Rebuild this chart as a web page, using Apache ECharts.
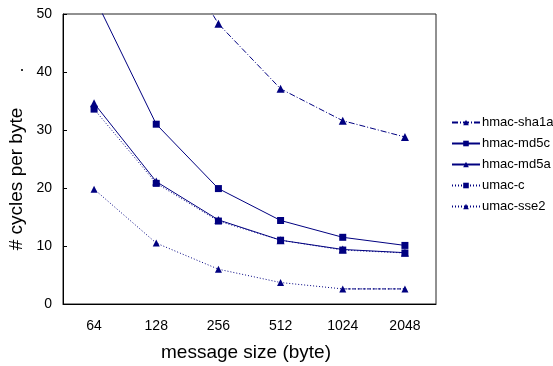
<!DOCTYPE html>
<html><head><meta charset="utf-8">
<script src="https://cdn.jsdelivr.net/npm/echarts@6/dist/echarts.min.js"></script>
<style>html,body{margin:0;padding:0;background:#fff}#c{width:553px;height:366px}</style>
</head><body><div id="c"></div>
<script>
const categories = ['64','128','256','512','1024','2048'];
const hmacSha1a = [null, 66, 48.3, 37.1, 31.6, 28.8];
const hmacMd5c = [53, 31.0, 19.9, 14.4, 11.5, 10.1];
const hmacMd5a = [34.6, 21.1, 14.5, 11.0, 9.4, 8.85];
const umacC = [33.6, 20.8, 14.3, 11.0, 9.3, 8.8];
const umacSse2 = [19.8, 10.5, 6.0, 3.7, 2.6, 2.6];
const umacSse2Tail = [null, null, null, null, 2.6, 2.6];
const yTicks = [0, 10, 20, 30, 40, 50];
const xTitle = 'message size (byte)';
const yTitle = '# cycles per byte';

const navy = '#000080';
const font = 'Liberation Sans, Arial, sans-serif';
function ser(name, data, sym, type, size) {
  return {
    name, type: 'line', data, symbol: sym, symbolSize: size,
    showAllSymbol: true, clip: true, connectNulls: false,
    itemStyle: { color: navy },
    lineStyle: { color: navy, width: 1, type: type },
    emphasis: { disabled: true }
  };
}
const chart = echarts.init(document.getElementById('c'), null, { renderer: 'canvas' });
chart.setOption({
  animation: false,
  grid: { left: 63, top: 14, right: 117, bottom: 62, show: true, borderColor: '#222', borderWidth: 1 },
  graphic: [
    { type: 'text', style: { text: xTitle, font: '19px ' + font, fill: '#000', x: 246, y: 353, textAlign: 'center', textVerticalAlign: 'middle' } },
    { type: 'text', rotation: Math.PI / 2, x: 17, y: 179, style: { text: yTitle, font: '19px ' + font, fill: '#000', x: 0, y: 0, textAlign: 'center', textVerticalAlign: 'middle' } },
    { type: 'rect', shape: { x: 21, y: 69, width: 2, height: 2 }, style: { fill: '#333' } }
  ],
  xAxis: {
    type: 'category', data: categories, boundaryGap: true,
    axisLine: { lineStyle: { color: '#000', width: 1 } },
    axisTick: { inside: true, length: 4, lineStyle: { color: '#000' } },
    axisLabel: { fontFamily: font, fontSize: 14, color: '#000', margin: 15 },
    splitLine: { show: false }
  },
  yAxis: {
    type: 'value', min: yTicks[0], max: yTicks[yTicks.length - 1], interval: 10,
    axisLine: { show: true, lineStyle: { color: '#000', width: 1 } },
    axisTick: { show: true, inside: true, length: 4, lineStyle: { color: '#000' } },
    axisLabel: { fontFamily: font, fontSize: 14, color: '#000', margin: 11 },
    splitLine: { show: false }
  },
  legend: {
    orient: 'vertical', left: 446, top: 111, itemGap: 8,
    itemWidth: 28, itemHeight: 7,
    textStyle: { fontFamily: font, fontSize: 13, color: '#000', padding: [0, 0, 0, -3] },
    data: ['hmac-sha1a', 'hmac-md5c', 'hmac-md5a', 'umac-c', 'umac-sse2']
  },
  series: [
    ser('hmac-sha1a', hmacSha1a, 'triangle', [6, 2, 1, 2], 8),
    ser('hmac-md5c', hmacMd5c, 'rect', 'solid', 7),
    ser('hmac-md5a', hmacMd5a, 'triangle', 'solid', 8),
    ser('umac-c', umacC, 'rect', [1, 2], 7),
    ser('umac-sse2', umacSse2, 'triangle', [1, 2], 7),
    Object.assign(ser('umac-sse2-tail', umacSse2Tail, 'none', [3, 2], 0), { legendHoverLink: false })
  ]
});
</script></body></html>
